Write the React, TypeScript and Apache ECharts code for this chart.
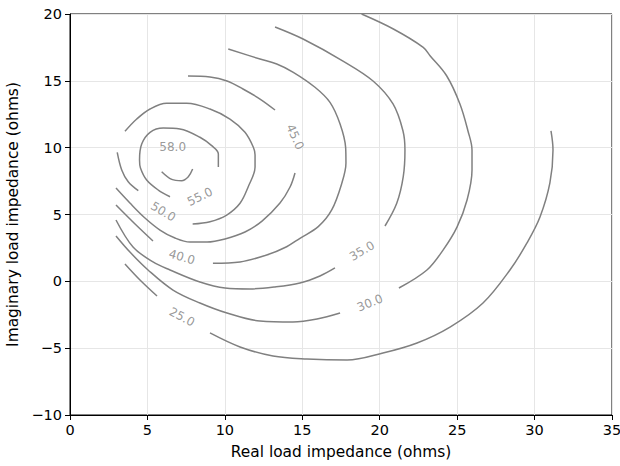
import React, { useEffect, useRef } from "react";
import * as echarts from "echarts";

// Contour segments (Real, Imag) per level; gaps are where inline labels sit
const c25a = [[3.55, 1.3], [4.52, 0.1], [5.62, -1.1]];
const c25b = [[9.04, -3.86], [10.98, -4.91], [13.11, -5.59], [15.3, -5.81], [17.89, -5.89], [20.21, -5.36], [22.41, -4.61], [24.54, -3.42], [26.67, -1.62], [28.41, 0.85], [29.51, 2.87], [30.35, 4.81], [30.99, 7.36], [31.19, 9.83], [31.06, 11.25]];
const c30a = [[2.97, 3.39], [3.87, 2.19], [5.04, 0.85], [6.65, -0.65], [8.39, -1.62], [10.14, -2.37], [12.27, -2.97], [14.4, -3.04], [15.95, -2.82], [17.44, -2.37]];
const c30b = [[21.24, -0.5], [23.05, 0.85], [24.09, 2.34], [24.99, 4.06], [25.64, 6.08], [25.96, 8.33], [25.96, 9.83], [25.7, 11.25], [25.18, 13.27], [24.32, 15.38], [23.25, 16.88], [22.81, 17.51], [20.88, 18.88], [18.83, 20.0]];
const c35a = [[2.97, 4.59], [4.07, 2.57], [5.36, 1.45], [6.46, 0.85], [8.39, -0.05], [10.01, -0.5], [11.62, -0.57], [13.24, -0.42], [14.85, -0.12], [16.14, 0.4], [17.11, 1.0]];
const c35b = [[20.34, 4.14], [21.1, 5.84], [21.52, 7.83], [21.63, 9.83], [21.5, 11.27], [20.86, 13.27], [19.57, 14.99], [17.63, 16.48], [15.05, 18.13], [13.24, 19.03]];
const c40a = [[2.97, 5.71], [4.2, 4.29], [5.36, 3.02]];
const c40b = [[9.23, 1.35], [10.98, 1.45], [12.7, 1.97], [13.99, 2.59], [14.85, 3.22], [16.03, 4.09], [16.9, 5.34], [17.55, 7.33], [17.82, 8.85], [17.8, 10.0], [17.44, 11.77], [16.79, 13.39], [15.82, 14.52], [14.42, 15.64], [13.35, 16.26], [12.27, 16.63], [10.22, 17.38]];
const c45a = [[2.97, 6.98], [3.87, 5.86], [4.84, 4.74], [5.81, 3.84], [6.78, 3.24], [7.75, 2.94], [8.85, 2.94], [10.01, 3.17], [11.3, 3.69], [12.4, 4.51], [13.56, 5.86], [14.21, 7.06], [14.53, 8.11]];
const c45b = [[13.24, 12.82], [12.27, 13.64], [11.17, 14.39], [10.14, 14.99], [9.04, 15.29], [7.62, 15.36]];
const c50a = [[3.05, 9.65], [3.34, 8.33], [3.76, 7.45], [4.41, 6.78]];
const c50b = [[7.92, 4.29], [9.04, 4.46], [10.12, 4.96], [10.98, 5.84], [11.51, 7.08], [11.95, 8.55], [11.95, 9.45], [11.84, 10.03], [11.3, 11.15], [10.33, 12.14], [9.04, 12.89], [7.54, 13.32], [6.24, 13.32], [5.17, 12.89], [4.31, 12.14], [3.55, 11.22]];
const c55 = [[9.58, 8.55], [9.58, 9.53], [9.15, 10.15], [8.39, 10.78], [7.1, 11.4], [6.02, 11.47], [5.17, 11.15], [4.63, 10.27], [4.49, 9.08], [4.55, 8.48], [4.95, 7.58], [5.7, 6.83], [6.46, 6.33]];
const c58 = [[5.92, 8.2], [6.57, 7.63], [7.21, 7.53], [7.64, 7.83], [7.92, 8.4]];

const segments = [c25a, c25b, c30a, c30b, c35a, c35b, c40a, c40b, c45a, c45b, c50a, c50b, c55, c58];

// Inline contour labels
const labelTexts = ["25.0", "30.0", "35.0", "40.0", "45.0", "50.0", "55.0", "58.0"];
const labelX = [7.23, 19.37, 18.86, 7.23, 14.53, 6.02, 8.39, 6.63];
const labelY = [-2.67, -1.62, 2.27, 1.82, 10.8, 5.21, 6.33, 10.03];
const labelRot = [-28, 22, 30, -16, -66, -31, 26, 0];

const xTicks = { min: 0, max: 35, interval: 5 };
const yTicks = { min: -10, max: 20, interval: 5 };

const FONT = "DejaVu Sans";
const LINE = "#808080";

export default function App() {
  const ref = useRef<HTMLDivElement>(null);
  useEffect(() => {
    if (!ref.current) return;
    const chart = echarts.init(ref.current, undefined, { renderer: "svg" });
    const lineSeries = segments.map((seg) => ({
      type: "line",
      data: seg,
      smooth: 0.35,
      showSymbol: false,
      symbol: "none",
      silent: true,
      lineStyle: { color: LINE, width: 1.5 },
      z: 3,
    }));
    const labelSeries = {
      type: "scatter",
      symbolSize: 1,
      itemStyle: { color: "transparent" },
      silent: true,
      z: 4,
      data: labelTexts.map((t, i) => ({
        name: t,
        value: [labelX[i], labelY[i]],
        label: { rotate: labelRot[i] },
      })),
      label: {
        show: true,
        position: "inside",
        formatter: (p: any) => p.name,
        color: LINE,
        fontFamily: FONT,
        fontSize: 12,
        align: "center",
        verticalAlign: "middle",
      },
    };
    const fmt = (v: number) => String(v).replace("-", "\u2212");
    chart.setOption({
      animation: false,
      backgroundColor: "#fff",
      grid: {
        left: 70,
        right: 8,
        top: 14,
        bottom: 51,
        show: true,
        borderColor: "#000",
        borderWidth: 1,
        backgroundColor: "transparent",
        outerBoundsMode: "none",
        containLabel: false,
      },
      xAxis: {
        type: "value",
        ...xTicks,
        name: "Real load impedance (ohms)",
        nameLocation: "middle",
        nameGap: 29,
        nameTextStyle: { color: "#000", fontFamily: FONT, fontSize: 15.4 },
        axisLine: { show: true, onZero: false, lineStyle: { color: "#000", width: 1 } },
        axisTick: { show: true, inside: false, length: 5, lineStyle: { color: "#000" } },
        axisLabel: { color: "#000", fontFamily: FONT, fontSize: 14.5, margin: 7, formatter: fmt },
        splitLine: { show: true, lineStyle: { color: "#e6e6e6", width: 1 } },
      },
      yAxis: {
        type: "value",
        ...yTicks,
        name: "Imaginary load impedance (ohms)",
        nameLocation: "middle",
        nameGap: 47,
        nameTextStyle: { color: "#000", fontFamily: FONT, fontSize: 15.4 },
        axisLine: { show: true, onZero: false, lineStyle: { color: "#000", width: 1 } },
        axisTick: { show: true, inside: false, length: 5, lineStyle: { color: "#000" } },
        axisLabel: { color: "#000", fontFamily: FONT, fontSize: 14.5, margin: 8, formatter: fmt },
        splitLine: { show: true, lineStyle: { color: "#e6e6e6", width: 1 } },
      },
      series: [...lineSeries, labelSeries],
    });
    return () => chart.dispose();
  }, []);
  return (
    <div
      ref={ref}
      style={{ position: "fixed", left: 0, top: 0, width: 620, height: 466 }}
    />
  );
}
